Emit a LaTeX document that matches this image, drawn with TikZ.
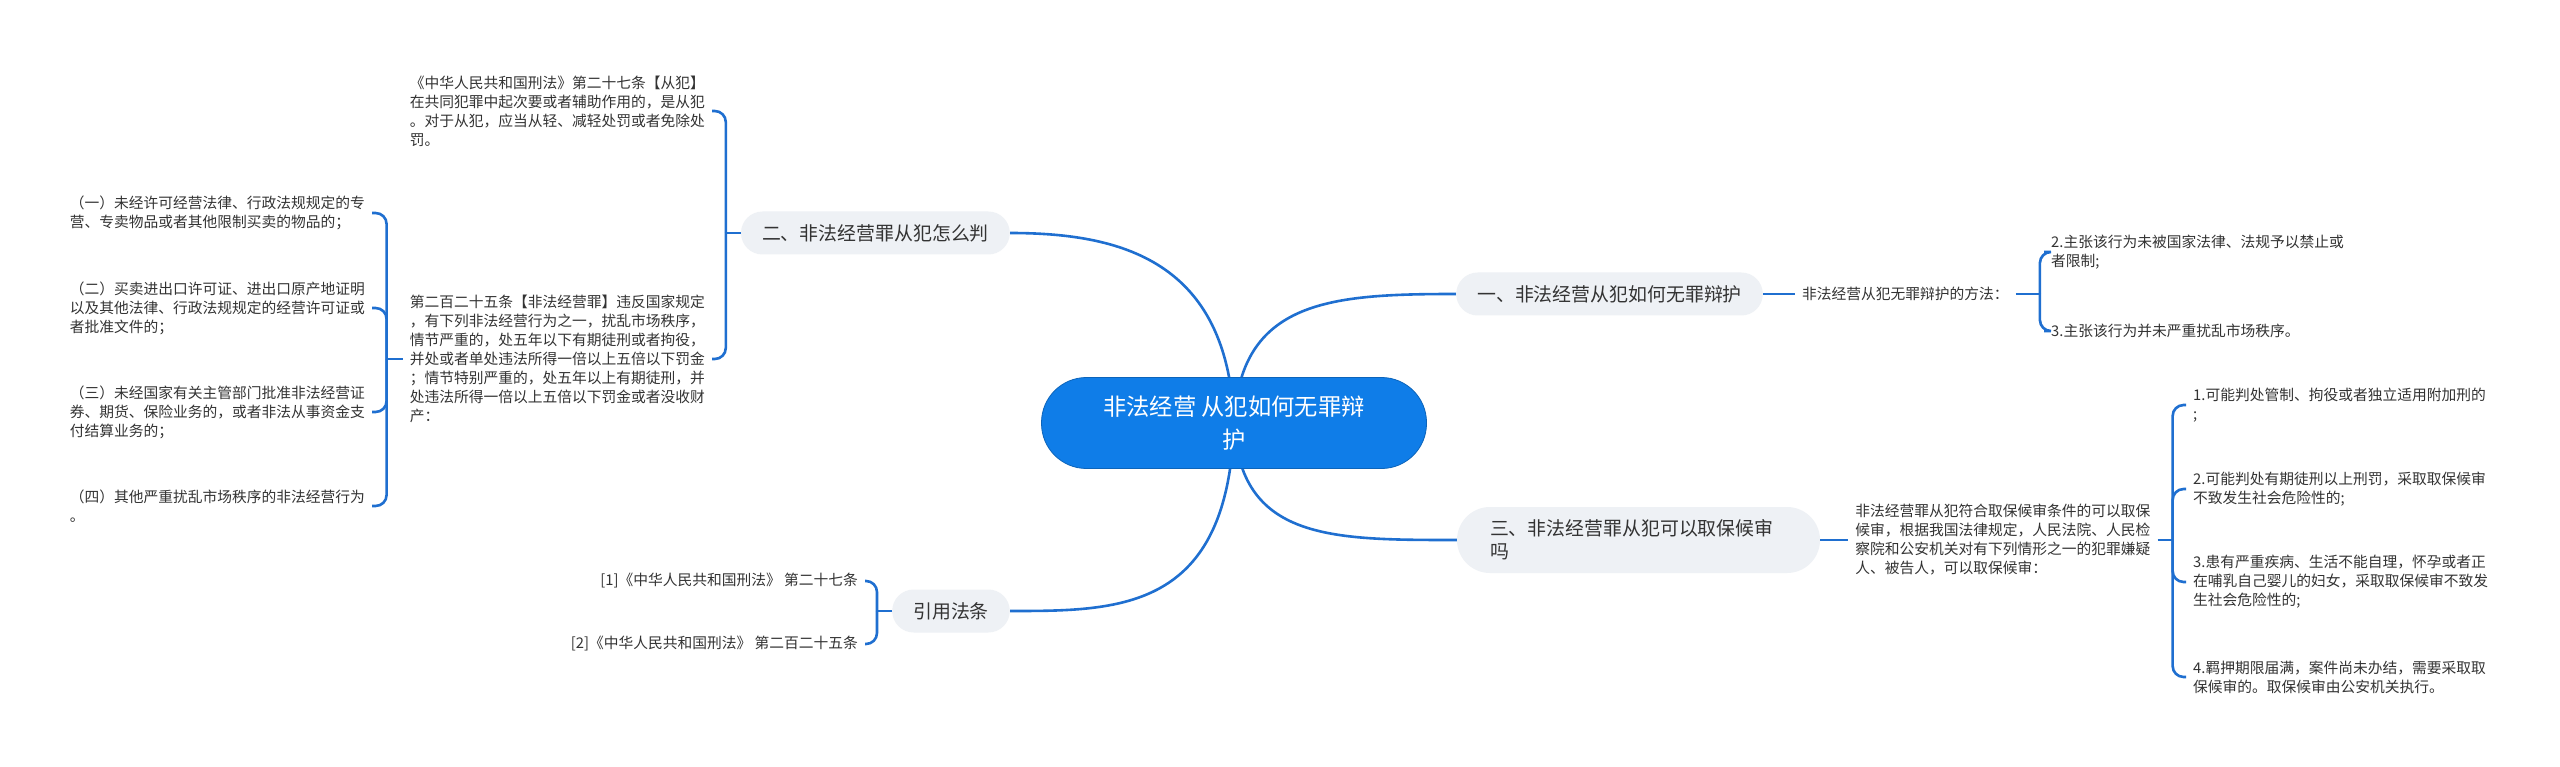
\documentclass[tikz,border=0pt]{standalone}
\usepackage{fontspec}
\setmainfont{Noto Sans CJK SC}
\usetikzlibrary{positioning,calc}
\pgfdeclarelayer{bg}
\pgfsetlayers{bg,main}
\definecolor{linkblue}{HTML}{1F6FD0}
\definecolor{rootblue}{HTML}{0F7DE8}
\definecolor{pillgray}{HTML}{EEF1F5}
\definecolor{txtgray}{HTML}{333333}

\begin{document}
\begin{tikzpicture}[
  x=1pt, y=-1pt,
  root/.style={rectangle, rounded corners=45pt, fill=rootblue,
               draw=rootblue!80!black, line width=0.8pt, text=white,
               align=center, font=\fontsize{23.3}{33}\selectfont,
               minimum width=385pt, minimum height=91pt},
  topic/.style={rectangle, rounded corners=21.5pt, fill=pillgray,
                text=txtgray, font=\fontsize{18.9}{23}\selectfont,
                inner xsep=21pt, minimum height=43pt},
  leaf/.style={text=txtgray, align=left, font=\fontsize{14.75}{19}\selectfont,
               inner xsep=7pt, inner ysep=2pt},
  link/.style={draw=linkblue, line width=2.6pt},
  fork/.style={link, rounded corners=11pt}
]
\useasboundingbox (0,0) rectangle (2560,767);

\node[root] (root) at (1234,423) {非法经营 从犯如何无罪辩\\护};

\node[topic, anchor=west] (b1) at (1456,294) {一、非法经营从犯如何无罪辩护};
\node[leaf, right=32pt of b1] (l1) {非法经营从犯无罪辩护的方法：};
\node[leaf, anchor=west] (l1a) at (2044,252) {2.主张该行为未被国家法律、法规予以禁止或\\者限制;};
\node[leaf, anchor=west] (l1b) at (2044,331) {3.主张该行为并未严重扰乱市场秩序。};

\node[topic, anchor=east] (b2) at (1010,233) {二、非法经营罪从犯怎么判};
\node[leaf, anchor=east] (l2a) at (712,111) {《中华人民共和国刑法》第二十七条【从犯】\\在共同犯罪中起次要或者辅助作用的，是从犯\\。对于从犯，应当从轻、减轻处罚或者免除处\\罚。};
\node[leaf, anchor=east] (l2b) at (712,359) {第二百二十五条【非法经营罪】违反国家规定\\，有下列非法经营行为之一，扰乱市场秩序，\\情节严重的，处五年以下有期徒刑或者拘役，\\并处或者单处违法所得一倍以上五倍以下罚金\\；情节特别严重的，处五年以上有期徒刑，并\\处违法所得一倍以上五倍以下罚金或者没收财\\产：};
\node[leaf, anchor=east] (g1) at (372,213) {（一）未经许可经营法律、行政法规规定的专\\营、专卖物品或者其他限制买卖的物品的；};
\node[leaf, anchor=east] (g2) at (372,308) {（二）买卖进出口许可证、进出口原产地证明\\以及其他法律、行政法规规定的经营许可证或\\者批准文件的；};
\node[leaf, anchor=east] (g3) at (372,412) {（三）未经国家有关主管部门批准非法经营证\\券、期货、保险业务的，或者非法从事资金支\\付结算业务的；};
\node[leaf, anchor=east] (g4) at (372,506) {（四）其他严重扰乱市场秩序的非法经营行为\\。};

\node[topic, text width=297pt, align=left, inner xsep=33pt,
      rounded corners=33pt, minimum height=66pt] (b3) at (1638.5,540)
      {三、非法经营罪从犯可以取保候审\\吗};
\node[leaf, right=28pt of b3] (l3) {非法经营罪从犯符合取保候审条件的可以取保\\候审，根据我国法律规定，人民法院、人民检\\察院和公安机关对有下列情形之一的犯罪嫌疑\\人、被告人，可以取保候审：};
\node[leaf, anchor=west] (c1) at (2186,405) {1.可能判处管制、拘役或者独立适用附加刑的\\;};
\node[leaf, anchor=west] (c2) at (2186,489) {2.可能判处有期徒刑以上刑罚，采取取保候审\\不致发生社会危险性的;};
\node[leaf, anchor=west] (c3) at (2186,582) {3.患有严重疾病、生活不能自理，怀孕或者正\\在哺乳自己婴儿的妇女，采取取保候审不致发\\生社会危险性的;};
\node[leaf, anchor=west] (c4) at (2186,677) {4.羁押期限届满，案件尚未办结，需要采取取\\保候审的。取保候审由公安机关执行。};

\node[topic, anchor=east] (b4) at (1010,611) {引用法条};
\node[leaf, anchor=east] (r1) at (865,581) {[1]《中华人民共和国刑法》 第二十七条};
\node[leaf, anchor=east] (r2) at (865,644) {[2]《中华人民共和国刑法》 第二百二十五条};

\begin{pgfonlayer}{bg}
\fill[white] (0,0) rectangle (2560,767);
\draw[link] (root.center) .. controls (1240,300) and (1330,294) .. (b1.west);
\draw[link] (root.center) .. controls (1228,260) and (1120,233) .. (b2.east);
\draw[link] (root.center) .. controls (1240,540) and (1330,540) .. (b3.west);
\draw[link] (root.center) .. controls (1228,611) and (1120,611) .. (b4.east);
\end{pgfonlayer}

\draw[link] (b1.east) -- (l1.west);
\draw[link] (l1.east) -- ++(24,0) coordinate (k1);
\foreach \n in {l1a,l1b} \draw[fork] (k1) |- (\n.west);

\draw[link] (b2.west) -- ++(-15,0) coordinate (k2);
\foreach \n in {l2a,l2b} \draw[fork] (k2) |- (\n.east);
\draw[link] (l2b.west) -- ++(-16,0) coordinate (k2b);
\foreach \n in {g1,g2,g3,g4} \draw[fork] (k2b) |- (\n.east);

\draw[link] (b3.east) -- (l3.west);
\draw[link] (l3.east) -- ++(15,0) coordinate (k3);
\foreach \n in {c1,c2,c3,c4} \draw[fork] (k3) |- (\n.west);

\draw[link] (b4.west) -- ++(-15,0) coordinate (k4);
\foreach \n in {r1,r2} \draw[fork] (k4) |- (\n.east);
\end{tikzpicture}
\end{document}
